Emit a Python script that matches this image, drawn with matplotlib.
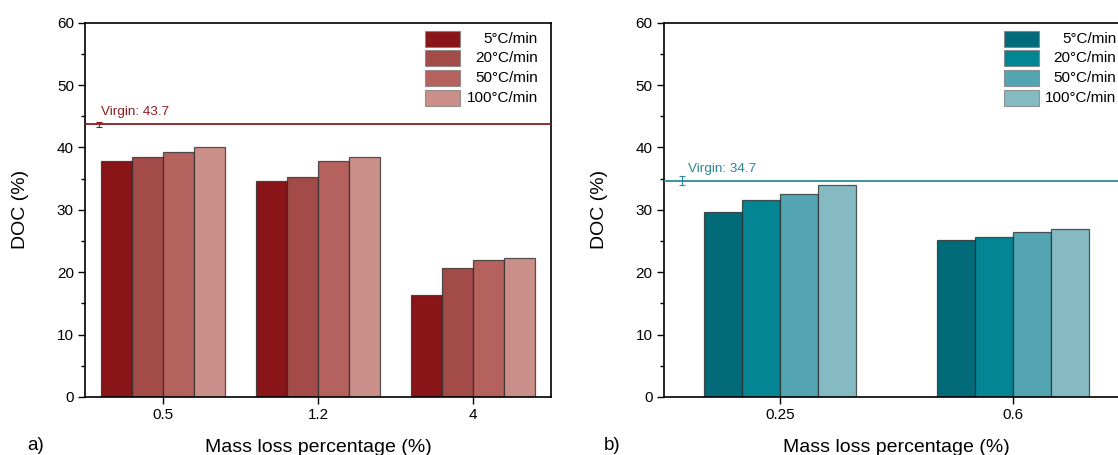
import matplotlib
matplotlib.use("Agg")
import matplotlib.pyplot as plt
import numpy as np
from matplotlib.ticker import MultipleLocator
from matplotlib.patches import Rectangle

plt.rcParams['font.family'] = ['Liberation Sans', 'DejaVu Sans']

# ---- data ----
rates = ['5°C/min', '20°C/min', '50°C/min', '100°C/min']

cats_a = ['0.5', '1.2', '4']
doc_a_5 = [37.8, 34.7, 16.4]
doc_a_20 = [38.4, 35.3, 20.7]
doc_a_50 = [39.2, 37.9, 22.0]
doc_a_100 = [40.1, 38.4, 22.3]
virgin_a = 43.7
virgin_a_err = 0.35

cats_b = ['0.25', '0.6']
doc_b_5 = [29.6, 25.2]
doc_b_20 = [31.5, 25.7]
doc_b_50 = [32.6, 26.5]
doc_b_100 = [34.0, 27.0]
virgin_b = 34.7
virgin_b_err = 0.7

colors_a = ['#8A1519', '#A34B48', '#B5625F', '#CB8F8A']
colors_b = ['#026B7A', '#038594', '#53A6B1', '#86BAC3']
line_a = '#8E1B1E'
line_b = '#2A8A96'

W, H = 1118, 455
fig = plt.figure(figsize=(W / 100, H / 100), dpi=100)

AX_TOP, AX_BOT, AX_W = 22.7, 397.0, 466.0
ax_bottom = 1 - AX_BOT / H
ax_h = (AX_BOT - AX_TOP) / H
axa_left, axb_left = 85.0, 663.6
axa = fig.add_axes([axa_left / W, ax_bottom, AX_W / W, ax_h])
axb = fig.add_axes([axb_left / W, ax_bottom, AX_W / W, ax_h])


def draw(ax, ax_left, cats, series, colors, width, virgin, verr, vcol, vx, vtext_xy,
         leg_patch_x, leg_text_right):
    x = np.arange(len(cats))
    n = len(series)
    for j, (vals, c) in enumerate(zip(series, colors)):
        ax.bar(x + (j - (n - 1) / 2) * width, vals, width, color=c,
               edgecolor=(0.15, 0.15, 0.15, 0.75), linewidth=0.9, zorder=2)
    ax.axhline(virgin, color=vcol, lw=1.3, zorder=3)
    ax.errorbar([vx], [virgin], yerr=[verr], color=vcol, capsize=2, elinewidth=0.8,
                capthick=0.8, zorder=4)
    ax.text(vtext_xy[0], vtext_xy[1], f'Virgin: {virgin}', color=vcol, fontsize=9.7,
            ha='left', va='center')
    ax.set_xlim(-0.5, len(cats) - 0.5)
    ax.set_ylim(0, 60)
    ax.set_xticks(x)
    ax.set_xticklabels(cats)
    ax.yaxis.set_major_locator(MultipleLocator(10))
    ax.yaxis.set_minor_locator(MultipleLocator(5))
    ax.tick_params(axis='both', which='major', direction='out', length=5, width=1.0,
                   labelsize=11, pad=3)
    ax.tick_params(axis='y', which='minor', direction='out', length=3, width=1.0)
    ax.tick_params(axis='x', which='minor', bottom=False)
    for s in ax.spines.values():
        s.set_linewidth(1.2)
    ax.set_ylabel('DOC (%)', fontsize=14, labelpad=20)
    ax.set_xlabel('Mass loss percentage (%)', fontsize=14, labelpad=12.5)

    # legend (drawn as patches + right-aligned labels, in axes fraction)
    def fx(px):
        return (px - ax_left) / AX_W

    def fy(py):
        return (AX_BOT - py) / (AX_BOT - AX_TOP)

    for j, (lab, c) in enumerate(zip(rates, colors)):
        top = 30.7 + 19.6 * j
        hgt = 16.0
        ax.add_patch(Rectangle((fx(leg_patch_x), fy(top + hgt)), 35.0 / AX_W,
                               hgt / (AX_BOT - AX_TOP), transform=ax.transAxes,
                               facecolor=c, edgecolor=(0.5, 0.5, 0.5, 0.8), lw=0.8,
                               clip_on=False, zorder=5))
        ax.text(fx(leg_text_right), fy(top + hgt / 2), lab, transform=ax.transAxes,
                fontsize=11, ha='right', va='center', clip_on=False, zorder=5)


draw(axa, axa_left, cats_a, [doc_a_5, doc_a_20, doc_a_50, doc_a_100], colors_a, 0.2,
     virgin_a, virgin_a_err, line_a, -0.41, (-0.40, 45.7), 425.0, 538.0)
draw(axb, axb_left, cats_b, [doc_b_5, doc_b_20, doc_b_50, doc_b_100], colors_b, 0.1625,
     virgin_b, virgin_b_err, line_b, -0.42, (-0.397, 36.6), 1004.0, 1116.5)

fig.text(27 / W, 1 - 445 / H, 'a)', fontsize=13.5, ha='left', va='center')
fig.text(604 / W, 1 - 445 / H, 'b)', fontsize=13.5, ha='left', va='center')

fig.savefig('out.png', dpi=100)
